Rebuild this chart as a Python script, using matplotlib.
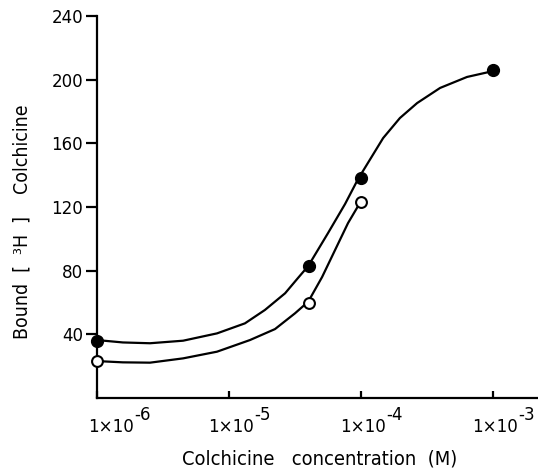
#!/usr/bin/env python
"""Bound [3H] colchicine versus colchicine concentration."""

import matplotlib

matplotlib.use("Agg")
import matplotlib.font_manager as fm
import matplotlib.pyplot as plt
from matplotlib.ticker import FixedLocator, NullLocator, NullFormatter

# measured points
conc_filled = [1e-6, 4.0e-5, 1.0e-4, 1.0e-3]
bound_filled = [36, 83, 138, 206]
conc_open = [1e-6, 4.0e-5, 1.0e-4]
bound_open = [23, 60, 123]

# hand-drawn curves
curve_filled_x = [1.0e-6, 1.57e-6, 2.52e-6, 4.49e-6, 8.11e-6, 1.32e-5, 1.87e-5, 2.66e-5,
                  3.33e-5, 3.98e-5, 5.63e-5, 7.57e-5, 9.5e-5, 1.47e-4, 1.97e-4, 2.66e-4,
                  3.97e-4, 6.35e-4, 1.0e-3]
curve_filled_y = [36.4, 34.9, 34.4, 36.0, 40.6, 46.9, 55.3, 65.8, 75.4, 82.9, 103.7, 121.9,
                  137.6, 163.3, 175.9, 185.3, 194.8, 201.7, 205.4]
curve_open_x = [1.0e-6, 1.57e-6, 2.52e-6, 4.49e-6, 8.11e-6, 1.44e-5, 2.23e-5, 3.16e-5,
                3.98e-5, 5.07e-5, 6.36e-5, 7.97e-5, 9.8e-5]
curve_open_y = [23.2, 22.4, 22.2, 24.9, 29.1, 36.4, 43.3, 53.2, 60.5, 76.0, 93.0, 109.9,
                122.5]

x_ticks = [1e-6, 1e-5, 1e-4, 1e-3]
x_tick_exponents = ["-6", "-5", "-4", "-3"]
y_ticks = [40, 80, 120, 160, 200, 240]

x_label = "Colchicine   concentration  (M)"
y_label = "Bound  [  ³H  ]    Colchicine"

# the original lettering is narrow; use a condensed face if one is installed
FONT, STRETCH, SCALE = "DejaVu Sans", "normal", 0.82
condensed = {(f.name, f.stretch) for f in fm.fontManager.ttflist
             if f.style == "normal" and f.weight in (400, "normal", "regular")}
for name, stretch, scale in [("Liberation Sans Narrow", "normal", 1.0),
                             ("Liberation Sans Narrow", "condensed", 1.0),
                             ("DejaVu Sans", "condensed", 0.9),
                             ("Noto Sans", "condensed", 0.95),
                             ("Noto Sans", "semi-condensed", 0.92)]:
    if (name, stretch) in condensed:
        FONT, STRETCH, SCALE = name, stretch, scale
        break
plt.rcParams["font.family"] = [FONT, "DejaVu Sans"]
plt.rcParams["font.stretch"] = STRETCH

PX = 72 / 100  # points per pixel at dpi 100

fig = plt.figure(figsize=(5.38, 4.72), dpi=100)
ax = fig.add_axes([97 / 538, 1 - 398 / 472, 1 - 97 / 538, (398 - 16) / 472])

line_kw = dict(color="black", linewidth=1.6, solid_joinstyle="round", solid_capstyle="round")
ax.plot(curve_filled_x, curve_filled_y, zorder=2, **line_kw)
ax.plot(curve_open_x, curve_open_y, zorder=2, **line_kw)
ax.plot(conc_filled, bound_filled, "o", color="black", markersize=8.5, clip_on=False, zorder=3)
ax.plot(conc_open, bound_open, "o", markerfacecolor="white", markeredgecolor="black",
        markeredgewidth=1.5, markersize=7.8, clip_on=False, zorder=3)

ax.set_xscale("log")
ax.set_xlim(1e-6, 2.19e-3)
ax.set_ylim(0, 240)
ax.xaxis.set_major_locator(FixedLocator(x_ticks))
ax.xaxis.set_minor_locator(NullLocator())
ax.xaxis.set_major_formatter(NullFormatter())
ax.set_yticks(y_ticks)

ax.spines[["top", "right"]].set_visible(False)
ax.spines[["left", "bottom"]].set_linewidth(1.6)
ax.tick_params(axis="x", direction="in", length=5, width=1.6)
ax.tick_params(axis="y", direction="out", length=8, width=1.6, labelsize=14.8 * SCALE, pad=2)

# x tick labels: "1x10" with a full-size raised exponent, as lettered on the original
tick_size = 14.8 * SCALE
for i, (value, exponent) in enumerate(zip(x_ticks, x_tick_exponents)):
    shift = 14 if i == 0 else 2
    ax.annotate("1×10", xy=(value, 0), xycoords=ax.get_xaxis_transform(),
                xytext=(shift * PX, -34 * PX), textcoords="offset points",
                ha="center", va="baseline", fontsize=tick_size, annotation_clip=False)
    ax.annotate(exponent, xy=(value, 0), xycoords=ax.get_xaxis_transform(),
                xytext=((shift + 23) * PX, -22 * PX), textcoords="offset points",
                ha="left", va="baseline", fontsize=tick_size, annotation_clip=False)

fig.text(320 / 538, 1 - 459 / 472, x_label, ha="center", va="center", fontsize=16 * SCALE)
fig.text(22 / 538, 1 - 222 / 472, y_label, ha="center", va="center", rotation=90,
         fontsize=15.5 * SCALE)

fig.savefig("out.png", dpi=100, facecolor="white")
